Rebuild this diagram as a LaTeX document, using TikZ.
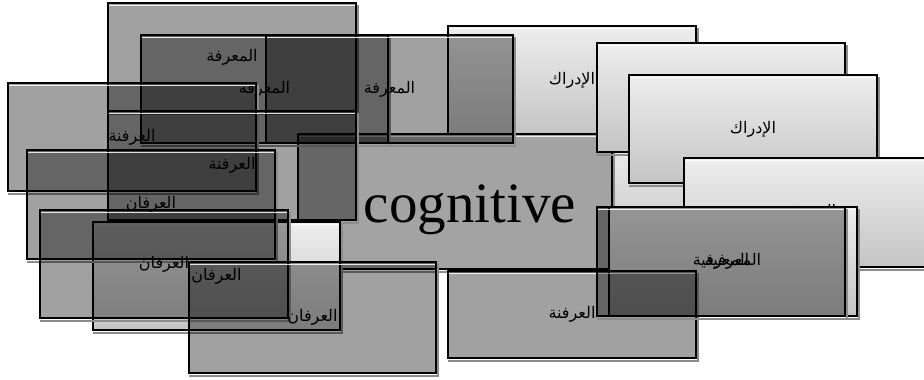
\documentclass[tikz,border=0pt]{standalone}
\usepackage{fontspec}
\setmainfont{Liberation Serif}
\newfontfamily\arabicfont[Script=Arabic]{DejaVu Sans}
\TeXXeTstate=1
\tikzset{
  boxbase/.style={rectangle, draw=black, line width=1.7pt, inner sep=0pt,
    minimum width=248pt, minimum height=108pt, text=black,
    path picture={\draw[white, line width=1pt, opacity=.85]
      ([yshift=-2.6pt]path picture bounding box.north west) --
      ([yshift=-2.6pt]path picture bounding box.north east);}},
  lightbox/.style={boxbase, top color=black!7, bottom color=black!23},
  darkbox/.style={boxbase, fill=black, fill opacity=0.37, text opacity=1, draw opacity=1},
  flatbox/.style={boxbase, fill=black!36},
  ar/.style={font=\arabicfont\fontsize{16}{19}\selectfont},
  shadeline/.style={black!45, line width=1.6pt},
}
\newcommand\myshd[1]{\draw[shadeline] ([shift={(1.2pt,-2.4pt)}]#1.south west) -- ([shift={(1.2pt,-2.4pt)}]#1.south east) -- ([shift={(1.2pt,-2.4pt)}]#1.north east);}
\begin{document}
\begin{tikzpicture}[x=1pt,y=-1pt]
\fill[white] (0,0) rectangle (924,380);
\useasboundingbox (0,0) rectangle (924,380);
% light boxes at the back
\node[lightbox, ar, minimum height=109pt] (H) at (572,80.5) {\beginR الإدراك\endR};
\myshd{H}
\node[lightbox] (S) at (684,194) {};
\myshd{S}
\node[flatbox, minimum width=314pt, minimum height=135pt] (G) at (455,201.5) {};
\myshd{G}
\node[font=\fontsize{57}{60}\selectfont, anchor=base, inner sep=0pt] (Gt) at (470,222) {cognitive};
\node[lightbox, ar, minimum height=109pt] (I) at (721,97.5) {\beginR الإدراك\endR};
\myshd{I}
\node[lightbox, ar] (J) at (753,129) {\beginR الإدراك\endR};
\myshd{J}
\node[lightbox, ar, minimum height=109pt] (K) at (808,212.5) {\beginR المعرفية\endR};
\myshd{K}
\node[lightbox, ar, minimum height=109pt] (M) at (733,261.5) {\beginR المعرفية\endR};
\myshd{M}
% upper-left dark boxes
\node[darkbox, ar] (A) at (232,57) {\beginR المعرفة\endR};
\myshd{A}
\node[darkbox, ar, minimum width=247pt] (B) at (264.5,89) {\beginR المعرفة\endR};
\myshd{B}
\node[darkbox, ar, minimum width=247pt] (C) at (389.5,89) {\beginR المعرفة\endR};
\myshd{C}
\node[darkbox, ar] (D) at (132,137) {\beginR العرفنة\endR};
\myshd{D}
\node[darkbox, ar, minimum height=109pt] (E) at (232,165.5) {\beginR العرفنة\endR};
\myshd{E}
% lower-left boxes
\node[lightbox, ar, minimum width=247pt] (P) at (216.5,276) {\beginR العرفان\endR};
\myshd{P}
\node[darkbox, ar, minimum height=109pt] (F) at (151,204.5) {\beginR العرفان\endR};
\myshd{F}
\node[darkbox, ar] (O) at (164,264) {\beginR العرفان\endR};
\myshd{O}
\node[darkbox, ar, minimum width=247pt, minimum height=111pt] (Q) at (312.5,317.5) {\beginR العرفان\endR};
\myshd{Q}
% lower-right dark boxes
\node[darkbox, ar, minimum height=87pt] (N) at (572,314.5) {\beginR العرفنة\endR};
\myshd{N}
\node[darkbox, ar, minimum height=109pt] (L) at (721,261.5) {\beginR المعرفية\endR};
\myshd{L}
\end{tikzpicture}
\end{document}
